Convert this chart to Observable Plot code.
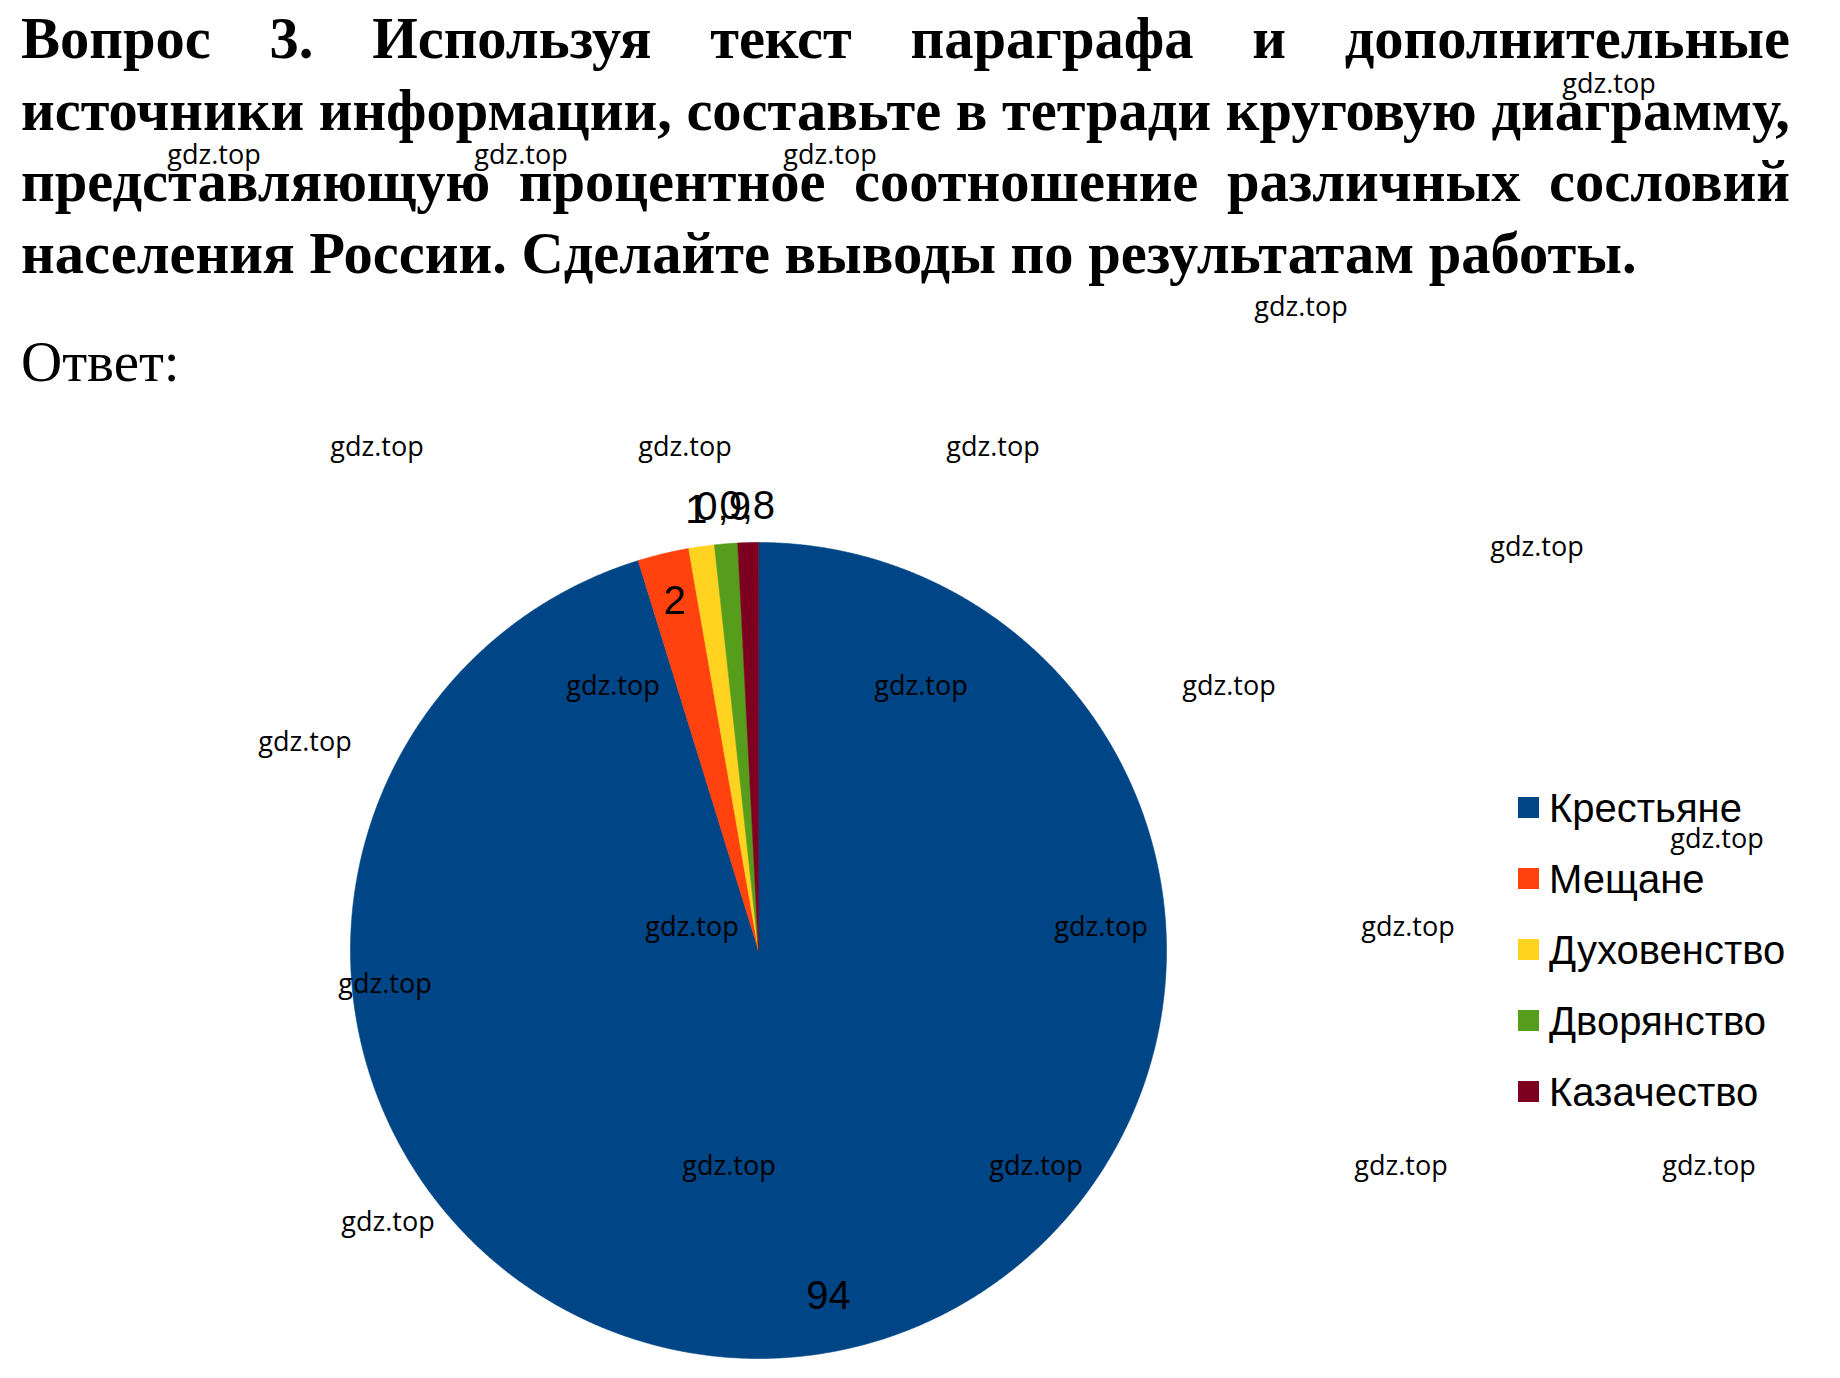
<!DOCTYPE html>
<html>
<head>
<meta charset="utf-8">
<script src="https://cdn.jsdelivr.net/npm/d3@7"></script>
<script src="https://cdn.jsdelivr.net/npm/@observablehq/plot@0.6"></script>
<style>
  html, body { margin: 0; padding: 0; background: #fff; }
  #page { position: relative; width: 1840px; height: 1378px; overflow: hidden; background: #fff; }
  .tl { position: absolute; left: 21px; font-family: "Liberation Serif", "Times New Roman", serif; font-weight: bold; white-space: nowrap; color: #000; transform-origin: left center; }
  .tl.just { display: flex; justify-content: space-between; }
  .ans { position: absolute; left: 21px; font-family: "Liberation Serif", "Times New Roman", serif; font-weight: normal; white-space: nowrap; color: #000; }
  #chart { position: absolute; left: 0; top: 400px; }
  #legend { position: absolute; left: 1518px; top: 772px; width: 322px; }
  .lg-swatches-columns .lg-swatch { height: 71px !important; padding: 0 !important; margin: 0 !important; overflow: visible !important; }
  .lg-swatches-columns .lg-swatch svg { margin-right: 10px !important; }
  .lg-swatches-columns .lg-swatch-label, .lg-swatch-label { overflow: visible !important; text-overflow: clip !important; white-space: nowrap !important; }
  .lg-swatches { margin: 0 !important; line-height: 1 !important; overflow: visible !important; }
  .wm { position: absolute; font-family: "Open Sans", "DejaVu Sans", sans-serif; font-size: 27px; line-height: 1; color: #000; transform: translate(-50%, -50%); white-space: nowrap; z-index: 10; }
</style>
</head>
<body>
<div id="page">
  <div id="chart"></div>
  <div id="legend"></div>
</div>
<script>
// ---------------- data ----------------
const categories = ["Крестьяне", "Мещане", "Духовенство", "Дворянство", "Казачество"];
const values = [94, 2, 1, 0.9, 0.8];
const colors = ["#004586", "#ff420e", "#ffd320", "#579d1c", "#7e0021"];

const titleLines = [
  "Вопрос 3. Используя текст параграфа и дополнительные",
  "источники информации, составьте в тетради круговую диаграмму,",
  "представляющую процентное соотношение различных сословий",
  "населения России. Сделайте выводы по результатам работы."
];
const answerLabel = "Ответ:";
const watermarkText = "gdz.top";

// ---------------- layout ----------------
const watermarkSpots = [
  [1609, 82], [214, 153], [521, 153], [830, 153], [1301, 305],
  [377, 445], [685, 445], [993, 445], [1537, 545],
  [613, 684], [921, 684], [1229, 684], [305, 740], [1717, 837],
  [692, 925], [1101, 925], [1408, 925], [385, 982],
  [729, 1164], [1036, 1164], [1401, 1164], [1709, 1164], [388, 1220]
];

const page = document.getElementById("page");

// Title: fit font so that the last (left-aligned) line matches the reference width
const lastLineWidth = 1616, fullWidth = 1769;
const ctx = document.createElement("canvas").getContext("2d");
ctx.font = 'bold 100px "Liberation Serif"';
const w100 = ctx.measureText(titleLines[3]).width;
const titleSize = Math.min(62, 100 * lastLineWidth / w100);
const firstBaseline = 59, pitch = 71.6;
titleLines.forEach((line, i) => {
  const div = document.createElement("div");
  div.className = "tl" + (i < 3 ? " just" : "");
  div.style.fontSize = titleSize + "px";
  div.style.lineHeight = titleSize + "px";
  div.style.height = titleSize + "px";
  div.style.top = (firstBaseline + i * pitch - 0.8375 * titleSize) + "px";
  if (i < 3) {
    div.style.width = fullWidth + "px";
    const words = line.split(" ");
    words.forEach(w => { const s = document.createElement("span"); s.textContent = w; div.appendChild(s); });
    ctx.font = `bold ${titleSize}px "Liberation Serif"`;
    const natural = ctx.measureText(line).width;
    if (natural > fullWidth) {
      const k = fullWidth / natural;
      div.style.width = (fullWidth / k) + "px";
      div.style.transform = `scaleX(${k})`;
    }
  } else {
    div.textContent = line;
  }
  page.appendChild(div);
});
const ansSize = 57;
const ans = document.createElement("div");
ans.className = "ans";
ans.textContent = answerLabel;
ans.style.fontSize = ansSize + "px";
ans.style.lineHeight = ansSize + "px";
ans.style.top = (381 - 0.8375 * ansSize) + "px";
page.appendChild(ans);

// ---------------- pie ----------------
const data = categories.map((name, i) => ({name, value: values[i]}));
const arcs = d3.pie().sort(null).value(d => d.value)(data);

function ring(a0, a1) {
  const n = Math.max(2, Math.ceil((a1 - a0) / (Math.PI / 720)));
  const pts = [[0, 0]];
  for (let k = 0; k <= n; k++) {
    const a = a0 + (a1 - a0) * k / n;
    pts.push([Math.sin(a), -Math.cos(a)]);
  }
  pts.push([0, 0]);
  return pts;
}
const slices = arcs.map(p => ({
  type: "Feature",
  properties: {name: p.data.name, value: p.data.value},
  geometry: {type: "Polygon", coordinates: [ring(p.startAngle, p.endAngle)]}
}));
const fmt = v => String(v).replace(".", ",");
const labels = arcs.map(p => {
  const mid = (p.startAngle + p.endAngle) / 2;
  const inside = p.data.value >= 2;
  // large slice labels sit nearer the rim and slightly ahead of the mid-angle, as in the reference
  const a = p.data.value > 50 ? mid - 0.05 : mid;
  const r = inside ? (p.data.value > 50 ? 0.865 : 0.88) : 1.09;
  return {x: r * Math.sin(a), y: -r * Math.cos(a), text: fmt(p.data.value)};
});

const chart = Plot.plot({
  width: 1840,
  height: 978,
  marginLeft: 350,
  marginRight: 674,
  marginTop: 142,
  marginBottom: 20,
  style: {background: "transparent", overflow: "visible"},
  projection: {type: "identity", domain: {type: "MultiPoint", coordinates: [[-1, -1], [1, 1]]}, clip: false},
  color: {type: "ordinal", domain: categories, range: colors},
  marks: [
    Plot.geo(slices, {fill: d => d.properties.name, stroke: d => d.properties.name, strokeWidth: 0.6}),
    Plot.text(labels, {x: "x", y: "y", text: "text", fontSize: 40, fontFamily: "Liberation Sans, Arial, sans-serif", fill: "#000"})
  ]
});
document.getElementById("chart").appendChild(chart);

const legend = Plot.legend({
  color: {type: "ordinal", domain: categories, range: colors},
  legend: "swatches",
  columns: 1,
  swatchSize: 21,
  className: "lg",
  style: {fontFamily: "Liberation Sans, Arial, sans-serif", fontSize: "40px", color: "#000", background: "transparent", overflow: "visible"}
});
document.getElementById("legend").appendChild(legend);

// watermarks
watermarkSpots.forEach(([x, y]) => {
  const s = document.createElement("span");
  s.className = "wm";
  s.textContent = watermarkText;
  s.style.left = x + "px";
  s.style.top = y + "px";
  page.appendChild(s);
});
</script>
</body>
</html>
